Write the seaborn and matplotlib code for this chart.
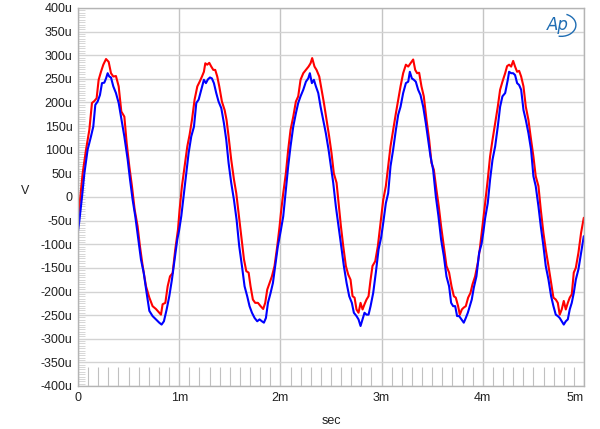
import matplotlib
matplotlib.use("Agg")
import matplotlib.pyplot as plt
from matplotlib.patches import Arc
import seaborn as sns
import pandas as pd

# time in ms, voltage in microvolts
red_t = [0.000, 0.020, 0.046, 0.079, 0.112, 0.138, 0.161, 0.184, 0.204, 0.227, 0.250, 0.277,
         0.303, 0.326, 0.349, 0.375, 0.402, 0.428, 0.458, 0.481, 0.507, 0.533, 0.560, 0.589,
         0.612, 0.639, 0.672, 0.705, 0.737, 0.770, 0.803, 0.820, 0.836, 0.863, 0.886, 0.909,
         0.935, 0.961, 0.988,
         1.004, 1.027, 1.054, 1.080, 1.103, 1.126, 1.152, 1.179, 1.202, 1.225, 1.244, 1.258,
         1.277, 1.297, 1.317, 1.337, 1.356, 1.376, 1.396, 1.422, 1.449, 1.468, 1.488, 1.514,
         1.541, 1.564, 1.587, 1.613, 1.640, 1.663, 1.686, 1.705, 1.728, 1.751, 1.778, 1.804,
         1.830, 1.850, 1.870, 1.893, 1.916, 1.942, 1.969, 1.992,
         2.005, 2.028, 2.054, 2.077, 2.100, 2.127, 2.153, 2.176, 2.199, 2.226, 2.252, 2.278,
         2.298, 2.314, 2.337, 2.357, 2.384, 2.407, 2.430, 2.456, 2.482, 2.505, 2.528, 2.555,
         2.575, 2.598, 2.621, 2.647, 2.670, 2.693, 2.713, 2.733, 2.752, 2.772, 2.792, 2.812,
         2.831, 2.851, 2.871, 2.891, 2.910, 2.937, 2.963, 2.989,
         3.016, 3.042, 3.065, 3.088, 3.114, 3.141, 3.164, 3.187, 3.213, 3.240, 3.263, 3.286,
         3.312, 3.332, 3.351, 3.371, 3.394, 3.417, 3.444, 3.470, 3.493, 3.516, 3.542, 3.565,
         3.588, 3.615, 3.641, 3.667, 3.691, 3.714, 3.733, 3.756, 3.773, 3.793, 3.812, 3.832,
         3.855, 3.878, 3.898, 3.924, 3.951, 3.970, 3.997,
         4.023, 4.049, 4.072, 4.096, 4.122, 4.148, 4.171, 4.194, 4.221, 4.240, 4.260, 4.280,
         4.300, 4.319, 4.339, 4.359, 4.379, 4.402, 4.425, 4.451, 4.477, 4.500, 4.523, 4.550,
         4.573, 4.599, 4.622, 4.649, 4.675, 4.698, 4.721, 4.741, 4.760, 4.780, 4.800, 4.820,
         4.840, 4.859, 4.879, 4.899, 4.919, 4.945, 4.971, 4.998]
red_v = [-48, -6, 50, 100, 142, 199, 203, 209, 248, 265, 280, 292,
         286, 262, 255, 256, 234, 181, 170, 114, 65, 23, -27, -62,
         -104, -146, -189, -213, -231, -237, -245, -249, -227, -224, -189, -168,
         -161, -111, -69,
         -27, 23, 65, 107, 132, 163, 206, 234, 244, 255, 265, 283,
         280, 284, 276, 269, 269, 255, 234, 202, 184, 163, 128, 79,
         37, 8, -34, -83, -132, -157, -160, -189, -217, -224, -224, -231,
         -237, -224, -196, -182, -168, -146, -104, -62,
         -34, 8, 50, 100, 142, 170, 202, 213, 248, 262, 269, 276,
         283, 294, 276, 269, 255, 227, 199, 163, 128, 93, 50, 30,
         -13, -62, -104, -146, -164, -175, -210, -213, -238, -245, -224, -238,
         -227, -217, -210, -175, -146, -136, -104, -55,
         -6, 23, 65, 107, 142, 177, 206, 234, 262, 280, 276, 283,
         291, 269, 262, 263, 234, 213, 163, 121, 72, 58, 15, -20,
         -62, -104, -146, -160, -189, -210, -213, -231, -249, -238, -234, -231,
         -213, -203, -185, -168, -139, -111, -62,
         -13, 37, 86, 121, 156, 191, 227, 244, 262, 277, 280, 276,
         288, 276, 265, 267, 255, 234, 191, 163, 121, 86, 44, 23,
         -27, -76, -111, -146, -182, -213, -217, -224, -249, -238, -220, -238,
         -224, -213, -206, -160, -150, -118, -76, -44]

blue_t = [0.000, 0.013, 0.040, 0.063, 0.095, 0.128, 0.151, 0.171, 0.194, 0.217, 0.237, 0.260,
          0.277, 0.293, 0.309, 0.326, 0.349, 0.375, 0.402, 0.425, 0.458, 0.491, 0.514, 0.540,
          0.566, 0.596, 0.622, 0.649, 0.678, 0.705, 0.737, 0.770, 0.803, 0.826, 0.849, 0.876,
          0.902, 0.928, 0.955, 0.981, 0.998,
          1.021, 1.047, 1.070, 1.093, 1.119, 1.146, 1.169, 1.192, 1.218, 1.244, 1.264, 1.284,
          1.304, 1.323, 1.343, 1.366, 1.389, 1.416, 1.442, 1.465, 1.488, 1.514, 1.541, 1.567,
          1.593, 1.620, 1.646, 1.672, 1.695, 1.719, 1.745, 1.771, 1.794, 1.817, 1.837, 1.857,
          1.877, 1.903, 1.926, 1.949, 1.975, 2.003,
          2.028, 2.054, 2.077, 2.100, 2.127, 2.153, 2.176, 2.199, 2.226, 2.252, 2.275, 2.291,
          2.311, 2.331, 2.351, 2.374, 2.397, 2.423, 2.449, 2.476, 2.499, 2.522, 2.548, 2.575,
          2.601, 2.627, 2.654, 2.680, 2.706, 2.726, 2.752, 2.772, 2.792, 2.812, 2.831, 2.851,
          2.871, 2.891, 2.917, 2.943, 2.970, 2.996,
          3.016, 3.042, 3.065, 3.088, 3.114, 3.141, 3.164, 3.187, 3.213, 3.240, 3.263, 3.279,
          3.299, 3.319, 3.338, 3.361, 3.384, 3.411, 3.437, 3.460, 3.483, 3.509, 3.536, 3.562,
          3.588, 3.615, 3.641, 3.667, 3.687, 3.707, 3.727, 3.746, 3.766, 3.789, 3.812, 3.832,
          3.852, 3.872, 3.891, 3.911, 3.937, 3.964, 3.987,
          4.005, 4.023, 4.049, 4.072, 4.096, 4.122, 4.148, 4.171, 4.194, 4.221, 4.247, 4.260,
          4.280, 4.300, 4.319, 4.339, 4.359, 4.379, 4.402, 4.425, 4.451, 4.477, 4.500, 4.523,
          4.550, 4.573, 4.599, 4.622, 4.649, 4.675, 4.698, 4.721, 4.741, 4.760, 4.780, 4.800,
          4.820, 4.840, 4.859, 4.879, 4.899, 4.919, 4.945, 4.971, 4.998]
blue_v = [-72, -51, 1, 50, 100, 128, 149, 195, 202, 216, 241, 242,
          251, 262, 255, 253, 234, 220, 199, 170, 128, 79, 37, -6,
          -41, -90, -132, -160, -203, -241, -252, -259, -266, -270, -263, -238,
          -210, -175, -132, -90, -72,
          -40, 8, 50, 93, 128, 149, 199, 206, 227, 248, 241, 249,
          253, 251, 241, 220, 202, 188, 156, 121, 72, 30, -6, -48,
          -104, -146, -189, -210, -231, -245, -256, -263, -259, -263, -266, -256,
          -224, -203, -182, -146, -104, -72,
          -41, 15, 65, 107, 149, 177, 199, 213, 227, 244, 251, 262,
          241, 248, 234, 220, 191, 163, 135, 100, 65, 30, -20, -62,
          -104, -146, -182, -210, -224, -245, -252, -259, -273, -259, -245, -249,
          -249, -231, -203, -160, -111, -85,
          -55, -13, 8, 65, 100, 142, 174, 191, 220, 241, 244, 265,
          251, 248, 244, 227, 216, 191, 156, 121, 86, 58, 1, -41,
          -90, -125, -168, -189, -224, -231, -231, -252, -252, -259, -266, -256,
          -245, -231, -217, -192, -168, -118, -100,
          -75, -45, -13, 37, 79, 107, 149, 191, 213, 220, 248, 265,
          262, 262, 258, 241, 237, 227, 184, 163, 135, 100, 44, 23,
          -20, -62, -104, -146, -175, -210, -231, -249, -252, -256, -263, -270,
          -263, -259, -238, -224, -203, -175, -153, -118, -83]

y_ticks = [-400, -350, -300, -250, -200, -150, -100, -50, 0, 50, 100, 150, 200, 250, 300, 350, 400]
y_labels = ["-400u", "-350u", "-300u", "-250u", "-200u", "-150u", "-100u", "-50u", "0",
            "50u", "100u", "150u", "200u", "250u", "300u", "350u", "400u"]
x_ticks = [0, 1, 2, 3, 4, 5]
x_labels = ["0", "1m", "2m", "3m", "4m", "5m"]

sns.set_style("white")
plt.rcParams["font.family"] = ["Liberation Sans", "DejaVu Sans"]

fig = plt.figure(figsize=(6, 4.29), dpi=100)
ax = fig.add_axes([78 / 600, 43 / 429, 506 / 600, 378 / 429])

red_df = pd.DataFrame({"t": red_t, "v": red_v})
blue_df = pd.DataFrame({"t": blue_t, "v": blue_v})
sns.lineplot(data=red_df, x="t", y="v", color="#ff0000", linewidth=1.5, ax=ax, sort=False)
sns.lineplot(data=blue_df, x="t", y="v", color="#0000ff", linewidth=1.5, ax=ax, sort=False)

ax.set_xlim(0, 5)
ax.set_ylim(-400, 400)
ax.set_yticks(y_ticks)
ax.set_yticklabels(y_labels, fontsize=9, color="#222222")
ax.set_xticks(x_ticks)
xt = ax.set_xticklabels(x_labels, fontsize=9, color="#222222")
xt[-1].set_horizontalalignment("right")
xt[-1].set_x(5.0)

ax.grid(True, axis="y", color="#d3d3d3", linewidth=1.0)
ax.grid(True, axis="x", color="#c4c4c4", linewidth=1.0)
ax.set_axisbelow(True)

# minor tick marks inside the plot
ax.set_xticks([i / 10 for i in range(1, 50) if i % 10 != 0], minor=True)
ax.set_yticks([v for v in range(-400, 401, 5) if v % 50 != 0], minor=True)
ax.tick_params(axis="x", which="minor", direction="in", length=14, width=0.8,
               color="#c0c0c0", bottom=True)
ax.tick_params(axis="y", which="minor", direction="in", length=5, width=0.6,
               color="#d0d0d0", left=True)
ax.tick_params(axis="both", which="major", length=0, pad=4)

for s in ax.spines.values():
    s.set_color("#b4b4b4")
    s.set_linewidth(1.0)

ax.set_xlabel("sec", fontsize=9, color="#222222", labelpad=8)
ax.set_ylabel("V", fontsize=9, color="#222222", rotation=0, labelpad=0)
ax.yaxis.set_label_coords(-0.105, 0.5)

# Audio Precision logo
ax.text(0.948, 0.955, "Ap", transform=ax.transAxes, fontsize=12, fontstyle="italic",
        color="#1f6db3", ha="center", va="center", family="DejaVu Sans")
ax.add_patch(Arc((0.955, 0.955), 0.058, 0.06, theta1=-100, theta2=70,
                 transform=ax.transAxes, color="#1f6db3", linewidth=1.0))

fig.savefig("out.png", dpi=100)
